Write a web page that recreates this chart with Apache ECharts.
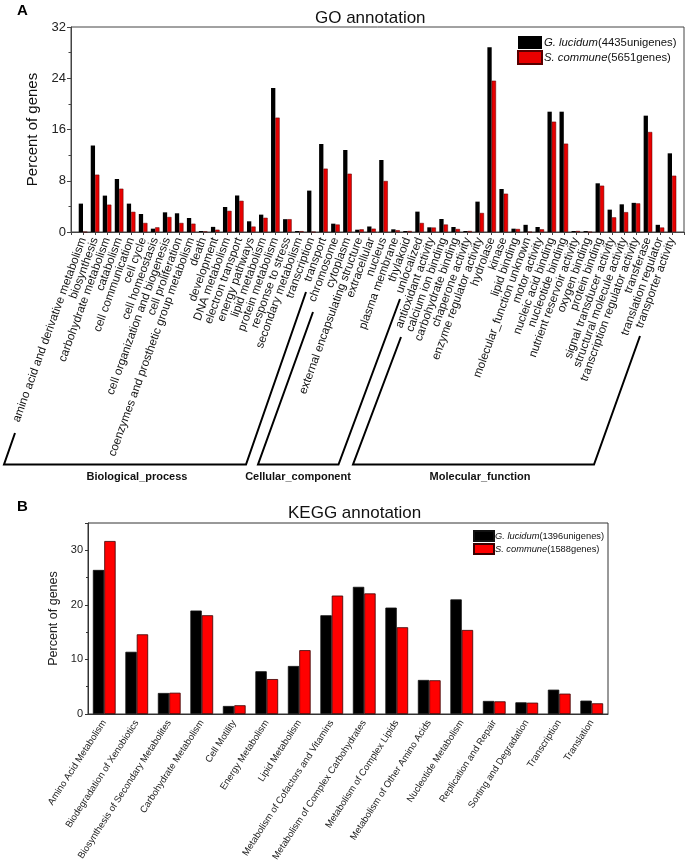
<!DOCTYPE html>
<html><head><meta charset="utf-8">
<script src="https://cdn.jsdelivr.net/npm/echarts@6/dist/echarts.min.js"></script>
<style>html,body{margin:0;padding:0;background:#fff}#c{width:688px;height:868px}</style>
</head><body><div id="c"></div>
<script>
// ---------- GO annotation data ----------
const goCats = [
  'amino acid and derivative metabolism','biosynthesis','carbohydrate metabolism','catabolism',
  'cell communication','cell cycle','cell homeostasis','cell organization and biogenesis',
  'cell proliferation','coenzymes and prosthetic group metabolism','death','development',
  'DNA metabolism','electron transport','energy pathways','lipid metabolism','protein metabolism',
  'response to stress','secondary metabolism','transcription','transport',
  'chromosome','cytoplasm','external encapsulating structure','extracellular','nucleus',
  'plasma membrane','thylakoid','unlocalized',
  'antioxidant activity','calcium ion binding','carbohydrate binding','chaperone activity',
  'enzyme regulator activity','hydrolase','kinase','lipid binding','molecular_function unknown',
  'motor activity','nucleic acid binding','nucleotide binding','nutrient reservoir activity',
  'oxygen binding','protein binding','signal transducer activity','structural molecule activity',
  'transcription regulator activity','transferase','translation regulator','transporter activity'
];
const goLucidum = [
  4.43, 13.5, 5.68, 8.27, 4.43, 2.81, 0.52, 3.07, 2.92, 2.19, 0.16, 0.8, 3.9, 5.7, 1.67, 2.71, 22.48, 2.0, 0.16, 6.46, 13.74,
  1.3, 12.8, 0.36, 0.86, 11.24, 0.42, 0.16, 3.18,
  0.73, 2.03, 0.78, 0.16, 4.74, 28.82, 6.71, 0.52, 1.12, 0.78, 18.78, 18.78, 0.16, 0.15, 7.6, 3.49, 4.32, 4.55, 18.16, 1.12, 12.28
];
const goCommune = [
  0, 8.95, 4.27, 6.76, 3.15, 1.41, 0.73, 2.34, 1.41, 1.3, 0.1, 0.36, 3.3, 4.87, 0.85, 2.22, 17.85, 2.0, 0.13, 0, 9.89,
  1.17, 9.1, 0.42, 0.52, 7.96, 0.28, 0.16, 1.41,
  0.7, 1.17, 0.47, 0.16, 2.97, 23.62, 5.98, 0.47, 0, 0.42, 17.22, 13.79, 0.16, 0, 7.23, 2.29, 3.1, 4.47, 15.61, 0.7, 8.79
];
const goTicks = [0, 8, 16, 24, 32];

// ---------- KEGG annotation data ----------
const keggCats = [
  'Amino Acid Metabolism','Biodegradation of Xenobiotics','Biosynthesis of Secondary Metabolites',
  'Carbohydrate Metabolism','Cell Motility','Energy Metabolism','Lipid Metabolism',
  'Metabolism of Cofactors and Vitamins','Metabolism of Complex Carbohydrates',
  'Metabolism of Complex Lipids','Metabolism of Other Amino Acids','Nucleotide Metabolism',
  'Replication and Repair','Sorting and Degradation','Transcription','Translation'
];
const keggLucidum = [26.4, 11.4, 3.85, 18.96, 1.47, 7.83, 8.8, 18.1, 23.3, 19.5, 6.24, 21.0, 2.39, 2.14, 4.46, 2.45];
const keggCommune = [31.7, 14.6, 3.9, 18.1, 1.6, 6.4, 11.7, 21.7, 22.1, 15.9, 6.18, 15.4, 2.32, 2.08, 3.73, 1.96];
const keggTicks = [0, 10, 20, 30];

const goNames = ['G. lucidum(4435unigenes)', 'S. commune(5651genes)'];
const keggNames = ['G. lucidum(1396unigenes)', 'S. commune(1588genes)'];
const groups = ['Biological_process', 'Cellular_component', 'Molecular_function'];

const FONT = '"Liberation Sans", Arial, sans-serif';
const BLACK = '#000000', RED = '#ff0000';
const chart = echarts.init(document.getElementById('c'), null, {renderer: 'canvas'});

const legendFmt = n => n.replace(/^(\S+ [a-z]+)/, '{i|$1}');

const option = {
  animation: false,
  textStyle: {fontFamily: FONT},
  title: [
    {text: 'GO annotation', left: 310, top: 5, textStyle: {fontSize: 17, fontWeight: 'normal', color: '#111', fontFamily: FONT}},
    {text: 'KEGG annotation', left: 283, top: 500, textStyle: {fontSize: 17, fontWeight: 'normal', color: '#111', fontFamily: FONT}}
  ],
  legend: [
    {data: goNames, orient: 'vertical', left: 512, top: 31, itemWidth: 24, itemHeight: 13, itemGap: 1,
     icon: 'rect', formatter: legendFmt,
     textStyle: {fontSize: 11.3, color: '#111', fontFamily: FONT, padding: [0, 0, 0, -3], rich: {i: {fontStyle: 'italic', fontSize: 11.3, fontFamily: FONT, color: '#111'}}}},
    {data: keggNames, orient: 'vertical', left: 468, top: 525, itemWidth: 20, itemHeight: 10, itemGap: 1,
     icon: 'rect', formatter: legendFmt,
     textStyle: {fontSize: 9.3, color: '#111', fontFamily: FONT, padding: [0, 0, 0, -4], rich: {i: {fontStyle: 'italic', fontSize: 9.3, fontFamily: FONT, color: '#111'}}}}
  ],
  grid: [
    {left: 71, top: 27, width: 613, height: 205, show: true, borderColor: '#444', borderWidth: 1},
    {left: 88, top: 523, width: 520, height: 191, show: true, borderColor: '#333', borderWidth: 1}
  ],
  xAxis: [
    {type: 'value', gridIndex: 0, min: 0, max: goCats.length + 1, interval: 1,
     axisLine: {lineStyle: {color: '#444'}}, splitLine: {show: false},
     axisTick: {length: 3, lineStyle: {color: '#444'}},
     axisLabel: {rotate: 70, fontSize: 11.7, color: '#111', margin: 6, fontFamily: FONT,
       showMinLabel: true, showMaxLabel: true,
       formatter: v => (v >= 1 && v <= goCats.length) ? goCats[v - 1] : ''}},
    {type: 'category', gridIndex: 1, data: keggCats,
     axisLine: {lineStyle: {color: '#333'}},
     axisTick: {alignWithLabel: true, length: 4, lineStyle: {color: '#333'}},
     axisLabel: {rotate: 57, fontSize: 9.5, color: '#222', margin: 7, interval: 0, fontFamily: FONT}}
  ],
  yAxis: [
    {type: 'value', gridIndex: 0, min: goTicks[0], max: goTicks[goTicks.length - 1], interval: goTicks[1] - goTicks[0],
     name: 'Percent of genes', nameLocation: 'middle', nameGap: 30,
     nameTextStyle: {fontSize: 15, color: '#111', fontFamily: FONT},
     axisLine: {show: true, lineStyle: {color: '#444'}}, splitLine: {show: false},
     axisTick: {show: true, length: 4, lineStyle: {color: '#444'}},
     minorTick: {show: true, splitNumber: 2, length: 2.5, lineStyle: {color: '#444'}},
     axisLabel: {fontSize: 13, color: '#222', margin: 5, fontFamily: FONT}},
    {type: 'value', gridIndex: 1, min: keggTicks[0], max: 35, interval: keggTicks[1] - keggTicks[0],
     name: 'Percent of genes', nameLocation: 'middle', nameGap: 25,
     nameTextStyle: {fontSize: 12.5, color: '#222', fontFamily: FONT},
     axisLine: {show: true, lineStyle: {color: '#333'}}, splitLine: {show: false},
     axisTick: {show: true, length: 3, lineStyle: {color: '#333'}},
     minorTick: {show: true, splitNumber: 2, length: 2, lineStyle: {color: '#333'}},
     axisLabel: {fontSize: 11, color: '#222', margin: 5, showMaxLabel: false, fontFamily: FONT}}
  ],
  series: [
    {name: goNames[0], type: 'bar', xAxisIndex: 0, yAxisIndex: 0, barWidth: 4.3, barGap: '0%',
     itemStyle: {color: BLACK}, data: goLucidum.map((v, i) => [i + 1, v])},
    {name: goNames[1], type: 'bar', xAxisIndex: 0, yAxisIndex: 0, barWidth: 4.3, barGap: '0%',
     itemStyle: {color: '#e80000', borderColor: '#550000', borderWidth: 0.5}, data: goCommune.map((v, i) => [i + 1, v])},
    {name: keggNames[0], type: 'bar', xAxisIndex: 1, yAxisIndex: 1, barGap: '0%', barCategoryGap: '30%',
     itemStyle: {color: BLACK, borderColor: '#111', borderWidth: 0.8}, data: keggLucidum},
    {name: keggNames[1], type: 'bar', xAxisIndex: 1, yAxisIndex: 1, barGap: '0%', barCategoryGap: '30%',
     itemStyle: {color: RED, borderColor: '#3a0000', borderWidth: 0.8}, data: keggCommune}
  ],
  graphic: [
    {type: 'text', left: 17, top: 3, style: {text: 'A', font: 'bold 15px ' + FONT, fill: '#000'}},
    {type: 'text', left: 17, top: 499, style: {text: 'B', font: 'bold 15px ' + FONT, fill: '#000'}},
    {type: 'polyline', shape: {points: [[15, 433], [4, 464.5], [246, 464.5], [306, 292]]}, style: {stroke: '#000', lineWidth: 2, fill: null}},
    {type: 'polyline', shape: {points: [[313, 312], [258, 464.5], [338.5, 464.5], [400, 299]]}, style: {stroke: '#000', lineWidth: 2, fill: null}},
    {type: 'polyline', shape: {points: [[401, 337], [353, 464.5], [594, 464.5], [640, 336]]}, style: {stroke: '#000', lineWidth: 2, fill: null}},
    {type: 'text', x: 137, y: 477, style: {text: groups[0], font: 'bold 11px ' + FONT, fill: '#111', textAlign: 'center', textVerticalAlign: 'middle'}},
    {type: 'text', x: 298, y: 477, style: {text: groups[1], font: 'bold 11px ' + FONT, fill: '#111', textAlign: 'center', textVerticalAlign: 'middle'}},
    {type: 'text', x: 480, y: 477, style: {text: groups[2], font: 'bold 11px ' + FONT, fill: '#111', textAlign: 'center', textVerticalAlign: 'middle'}}
  ]
};
chart.setOption(option);
</script></body></html>
